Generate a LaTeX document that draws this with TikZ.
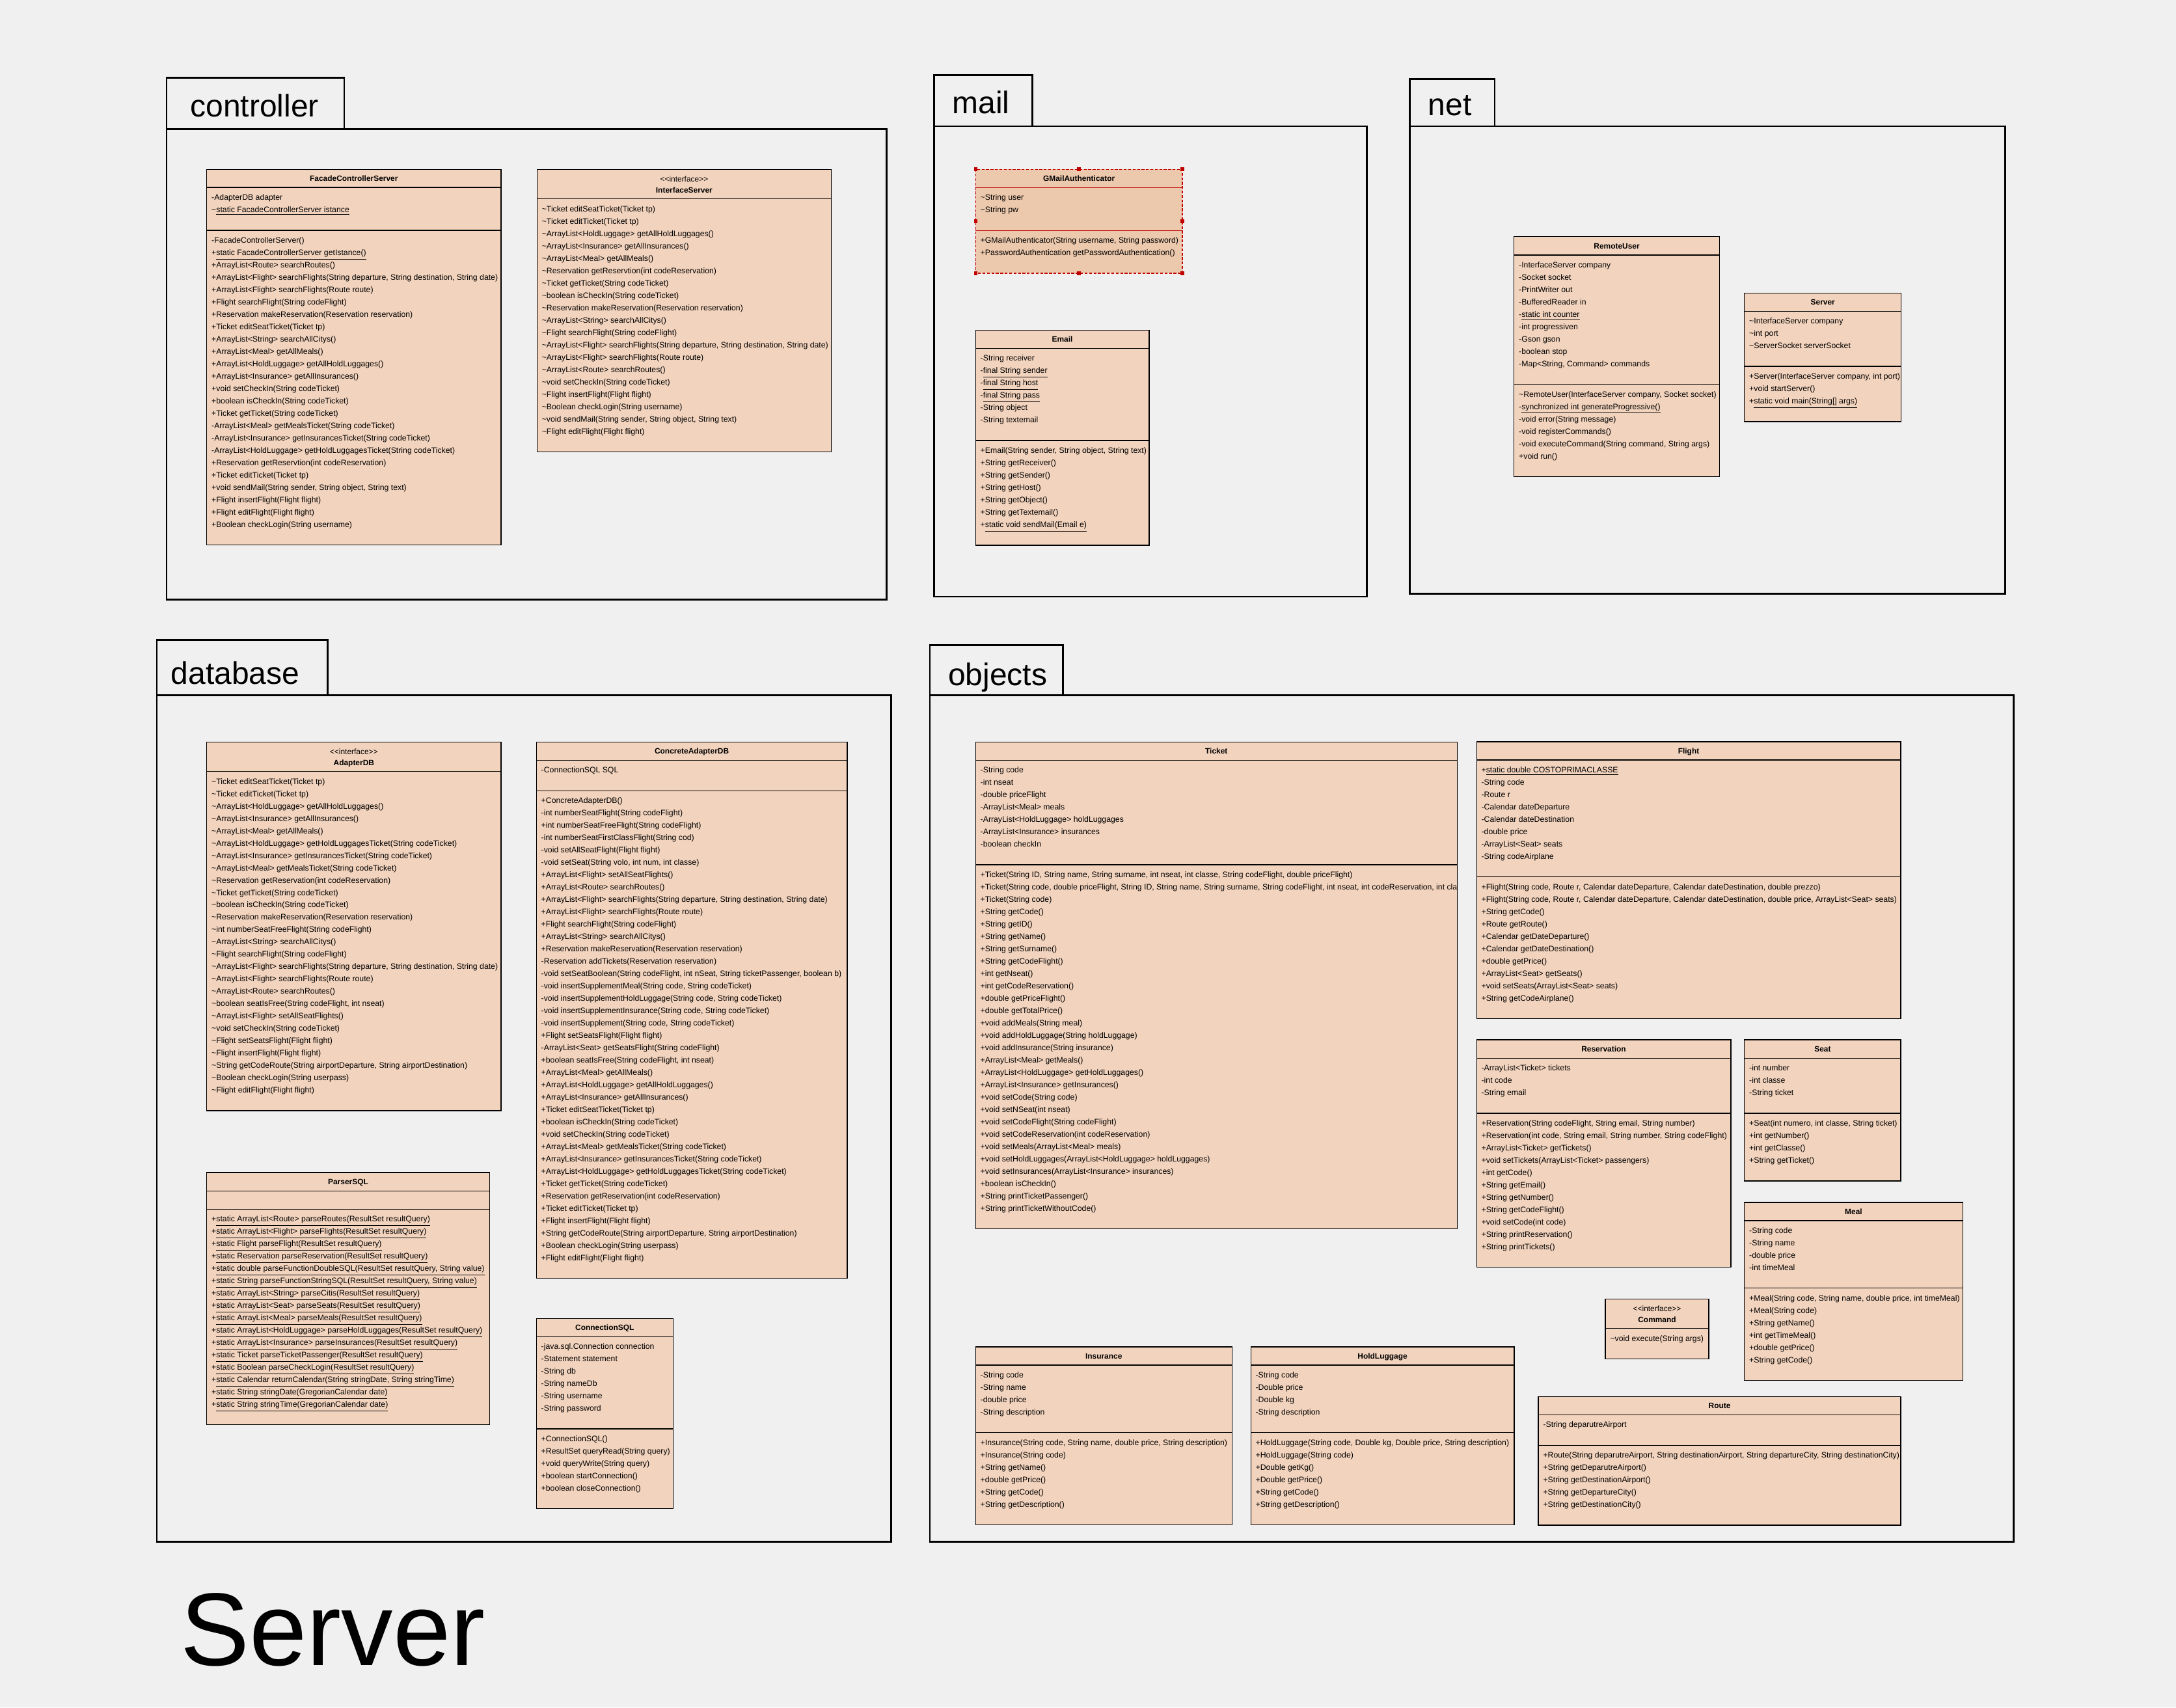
\documentclass[tikz,border=0pt]{standalone}
\usepackage{fontspec}
\setmainfont{Liberation Sans}
\definecolor{bgc}{HTML}{F0F0F0}
\definecolor{cfill}{HTML}{F2D3BD}
\definecolor{gfill}{HTML}{ECC8AC}
\definecolor{selred}{HTML}{C00000}
\newcommand\vtil{\textasciitilde}
\newcommand\stereo{<\kern0pt<interface>\kern0pt>}
\tikzset{
  cbox/.style={draw=black, line width=0.6pt, fill=cfill},
  gbox/.style={draw=selred, line width=0.6pt, fill=gfill, dash pattern=on 2pt off 1.2pt},
  cline/.style={draw=black, line width=0.6pt},
  gline/.style={draw=selred, line width=0.6pt},
  handle/.style={fill=selred, draw=none},
  ctxt/.style={anchor=north west, inner sep=0pt, align=left, font=\fontsize{5.75}{8.9}\selectfont},
  ctitle/.style={anchor=base, inner sep=0pt, font=\bfseries\fontsize{5.6}{7}\selectfont},
  cster/.style={anchor=base, inner sep=0pt, font=\fontsize{5.6}{7}\selectfont},
  pkg/.style={draw=black, line width=1.3pt},
  pkgl/.style={anchor=base west, inner sep=0pt, font=\fontsize{22.5}{27}\selectfont},
}
\begin{document}
\begin{tikzpicture}[x=1pt,y=-1pt]
\useasboundingbox (0,0) rectangle (1568,1230.4);
\fill[bgc] (0,0) rectangle (1568,1230.4);

% ---------------- packages ----------------
\draw[pkg] (120,56) rectangle (248,93);
\draw[pkg] (120,93) rectangle (639,432);
\node[pkgl] (pcontroller) at (137,84) {controller};
\draw[pkg] (673,54) rectangle (744,91);
\draw[pkg] (673,91) rectangle (985,430);
\node[pkgl] (pmail) at (686,82) {mail};
\draw[pkg] (1016,57) rectangle (1077,91);
\draw[pkg] (1016,91) rectangle (1445,428);
\node[pkgl] (pnet) at (1029,83) {net};
\draw[pkg] (113,461) rectangle (236,501);
\draw[pkg] (113,501) rectangle (642,1111);
\node[pkgl] (pdatabase) at (123,493) {database};
\draw[pkg] (670,465) rectangle (766,501);
\draw[pkg] (670,501) rectangle (1451,1111);
\node[pkgl] (pobjects) at (683,494) {objects};
\node[anchor=base west, inner sep=0pt, font=\fontsize{74.5}{80}\selectfont] (title) at (130,1200) {Server};

% ---------------- FacadeControllerServer ----------------
\draw[cbox] (149,122) rectangle (361,392.7);
\draw[cline] (149,135) -- (361,135) (149,166) -- (361,166);
\node[ctitle] (fcsT) at (255,130.6) {FacadeControllerServer};
\node[ctxt] (fcsA) at (152.3,137.77) {\strut-AdapterDB adapter\\\vtil\underline{static FacadeControllerServer istance}};
\node[ctxt] (fcsM) at (152.3,168.77) {\strut-FacadeControllerServer()\\
+\underline{static FacadeControllerServer getIstance()}\\
+ArrayList<Route> searchRoutes()\\
+ArrayList<Flight> searchFlights(String departure, String destination, String date)\\
+ArrayList<Flight> searchFlights(Route route)\\
+Flight searchFlight(String codeFlight)\\
+Reservation makeReservation(Reservation reservation)\\
+Ticket editSeatTicket(Ticket tp)\\
+ArrayList<String> searchAllCitys()\\
+ArrayList<Meal> getAllMeals()\\
+ArrayList<HoldLuggage> getAllHoldLuggages()\\
+ArrayList<Insurance> getAllInsurances()\\
+void setCheckIn(String codeTicket)\\
+boolean isCheckIn(String codeTicket)\\
+Ticket getTicket(String codeTicket)\\
-ArrayList<Meal> getMealsTicket(String codeTicket)\\
-ArrayList<Insurance> getInsurancesTicket(String codeTicket)\\
-ArrayList<HoldLuggage> getHoldLuggagesTicket(String codeTicket)\\
+Reservation getReservtion(int codeReservation)\\
+Ticket editTicket(Ticket tp)\\
+void sendMail(String sender, String object, String text)\\
+Flight insertFlight(Flight flight)\\
+Flight editFlight(Flight flight)\\
+Boolean checkLogin(String username)};

% ---------------- InterfaceServer ----------------
\draw[cbox] (387,122) rectangle (599,325.6);
\draw[cline] (387,143.4) -- (599,143.4);
\node[cster] (isS) at (493,131) {\stereo};
\node[ctitle] (isT) at (493,139) {InterfaceServer};
\node[ctxt] (isM) at (390.3,146.17) {\strut\vtil Ticket editSeatTicket(Ticket tp)\\
\vtil Ticket editTicket(Ticket tp)\\
\vtil ArrayList<HoldLuggage> getAllHoldLuggages()\\
\vtil ArrayList<Insurance> getAllInsurances()\\
\vtil ArrayList<Meal> getAllMeals()\\
\vtil Reservation getReservtion(int codeReservation)\\
\vtil Ticket getTicket(String codeTicket)\\
\vtil boolean isCheckIn(String codeTicket)\\
\vtil Reservation makeReservation(Reservation reservation)\\
\vtil ArrayList<String> searchAllCitys()\\
\vtil Flight searchFlight(String codeFlight)\\
\vtil ArrayList<Flight> searchFlights(String departure, String destination, String date)\\
\vtil ArrayList<Flight> searchFlights(Route route)\\
\vtil ArrayList<Route> searchRoutes()\\
\vtil void setCheckIn(String codeTicket)\\
\vtil Flight insertFlight(Flight flight)\\
\vtil Boolean checkLogin(String username)\\
\vtil void sendMail(String sender, String object, String text)\\
\vtil Flight editFlight(Flight flight)};

% ---------------- GMailAuthenticator ----------------
\draw[gbox] (703,122) rectangle (852,197);
\draw[gline] (703,135.2) -- (852,135.2) (703,166.1) -- (852,166.1);
\foreach \hx/\hy [count=\k] in {703/122,777.5/122,852/122,703/159.5,852/159.5,703/197,777.5/197,852/197}
  \fill[handle] (\hx-1.3,\hy-1.3) rectangle (\hx+1.3,\hy+1.3);
\node[ctitle] (gmaT) at (777.5,130.8) {GMailAuthenticator};
\node[ctxt] (gmaA) at (706.3,137.97) {\strut\vtil String user\\\vtil String pw};
\node[ctxt] (gmaM) at (706.3,168.87) {\strut+GMailAuthenticator(String username, String password)\\
+PasswordAuthentication getPasswordAuthentication()};

% ---------------- Email ----------------
\draw[cbox] (703,238) rectangle (828,392.9);
\draw[cline] (703,251) -- (828,251) (703,317.5) -- (828,317.5);
\node[ctitle] (emT) at (765.5,246.6) {Email};
\node[ctxt] (emA) at (706.3,253.77) {\strut-String receiver\\
-\underline{final String sender}\\
-\underline{final String host}\\
-\underline{final String pass}\\
-String object\\
-String textemail};
\node[ctxt] (emM) at (706.3,320.27) {\strut+Email(String sender, String object, String text)\\
+String getReceiver()\\
+String getSender()\\
+String getHost()\\
+String getObject()\\
+String getTextemail()\\
+\underline{static void sendMail(Email e)}};

% ---------------- RemoteUser ----------------
\draw[cbox] (1091,170.6) rectangle (1239,343.5);
\draw[cline] (1091,183.8) -- (1239,183.8) (1091,277) -- (1239,277);
\node[ctitle] (ruT) at (1165,179.2) {RemoteUser};
\node[ctxt] (ruA) at (1094.3,186.57) {\strut-InterfaceServer company\\
-Socket socket\\
-PrintWriter out\\
-BufferedReader in\\
-\underline{static int counter}\\
-int progressiven\\
-Gson gson\\
-boolean stop\\
-Map<String, Command> commands};
\node[ctxt] (ruM) at (1094.3,279.77) {\strut\vtil RemoteUser(InterfaceServer company, Socket socket)\\
-\underline{synchronized int generateProgressive()}\\
-void error(String message)\\
-void registerCommands()\\
-void executeCommand(String command, String args)\\
+void run()};

% ---------------- Server ----------------
\draw[cbox] (1257,211.2) rectangle (1370,303.8);
\draw[cline] (1257,224.2) -- (1370,224.2) (1257,264) -- (1370,264);
\node[ctitle] (svT) at (1313.5,219.8) {Server};
\node[ctxt] (svA) at (1260.3,226.97) {\strut\vtil InterfaceServer company\\
\vtil int port\\
\vtil ServerSocket serverSocket};
\node[ctxt] (svM) at (1260.3,266.77) {\strut+Server(InterfaceServer company, int port)\\
+void startServer()\\
+\underline{static void main(String[] args)}};

% ---------------- AdapterDB ----------------
\draw[cbox] (149,534.7) rectangle (361,800.4);
\draw[cline] (149,555.9) -- (361,555.9);
\node[cster] (adS) at (255,543.7) {\stereo};
\node[ctitle] (adT) at (255,551.7) {AdapterDB};
\node[ctxt] (adM) at (152.3,558.67) {\strut\vtil Ticket editSeatTicket(Ticket tp)\\
\vtil Ticket editTicket(Ticket tp)\\
\vtil ArrayList<HoldLuggage> getAllHoldLuggages()\\
\vtil ArrayList<Insurance> getAllInsurances()\\
\vtil ArrayList<Meal> getAllMeals()\\
\vtil ArrayList<HoldLuggage> getHoldLuggagesTicket(String codeTicket)\\
\vtil ArrayList<Insurance> getInsurancesTicket(String codeTicket)\\
\vtil ArrayList<Meal> getMealsTicket(String codeTicket)\\
\vtil Reservation getReservation(int codeReservation)\\
\vtil Ticket getTicket(String codeTicket)\\
\vtil boolean isCheckIn(String codeTicket)\\
\vtil Reservation makeReservation(Reservation reservation)\\
\vtil int numberSeatFreeFlight(String codeFlight)\\
\vtil ArrayList<String> searchAllCitys()\\
\vtil Flight searchFlight(String codeFlight)\\
\vtil ArrayList<Flight> searchFlights(String departure, String destination, String date)\\
\vtil ArrayList<Flight> searchFlights(Route route)\\
\vtil ArrayList<Route> searchRoutes()\\
\vtil boolean seatIsFree(String codeFlight, int nseat)\\
\vtil ArrayList<Flight> setAllSeatFlights()\\
\vtil void setCheckIn(String codeTicket)\\
\vtil Flight setSeatsFlight(Flight flight)\\
\vtil Flight insertFlight(Flight flight)\\
\vtil String getCodeRoute(String airportDeparture, String airportDestination)\\
\vtil Boolean checkLogin(String userpass)\\
\vtil Flight editFlight(Flight flight)};

% ---------------- ConcreteAdapterDB ----------------
\draw[cbox] (386.5,534.7) rectangle (610.5,921.1);
\draw[cline] (386.5,547.8) -- (610.5,547.8) (386.5,569.8) -- (610.5,569.8);
\node[ctitle] (caT) at (498.5,543.3) {ConcreteAdapterDB};
\node[ctxt] (caA) at (389.8,550.57) {\strut-ConnectionSQL SQL};
\node[ctxt] (caM) at (389.8,572.57) {\strut+ConcreteAdapterDB()\\
-int numberSeatFlight(String codeFlight)\\
+int numberSeatFreeFlight(String codeFlight)\\
-int numberSeatFirstClassFlight(String cod)\\
-void setAllSeatFlight(Flight flight)\\
-void setSeat(String volo, int num, int classe)\\
+ArrayList<Flight> setAllSeatFlights()\\
+ArrayList<Route> searchRoutes()\\
+ArrayList<Flight> searchFlights(String departure, String destination, String date)\\
+ArrayList<Flight> searchFlights(Route route)\\
+Flight searchFlight(String codeFlight)\\
+ArrayList<String> searchAllCitys()\\
+Reservation makeReservation(Reservation reservation)\\
-Reservation addTickets(Reservation reservation)\\
-void setSeatBoolean(String codeFlight, int nSeat, String ticketPassenger, boolean b)\\
-void insertSupplementMeal(String code, String codeTicket)\\
-void insertSupplementHoldLuggage(String code, String codeTicket)\\
-void insertSupplementInsurance(String code, String codeTicket)\\
-void insertSupplement(String code, String codeTicket)\\
+Flight setSeatsFlight(Flight flight)\\
-ArrayList<Seat> getSeatsFlight(String codeFlight)\\
+boolean seatIsFree(String codeFlight, int nseat)\\
+ArrayList<Meal> getAllMeals()\\
+ArrayList<HoldLuggage> getAllHoldLuggages()\\
+ArrayList<Insurance> getAllInsurances()\\
+Ticket editSeatTicket(Ticket tp)\\
+boolean isCheckIn(String codeTicket)\\
+void setCheckIn(String codeTicket)\\
+ArrayList<Meal> getMealsTicket(String codeTicket)\\
+ArrayList<Insurance> getInsurancesTicket(String codeTicket)\\
+ArrayList<HoldLuggage> getHoldLuggagesTicket(String codeTicket)\\
+Ticket getTicket(String codeTicket)\\
+Reservation getReservation(int codeReservation)\\
+Ticket editTicket(Ticket tp)\\
+Flight insertFlight(Flight flight)\\
+String getCodeRoute(String airportDeparture, String airportDestination)\\
+Boolean checkLogin(String userpass)\\
+Flight editFlight(Flight flight)};

% ---------------- ParserSQL ----------------
\draw[cbox] (149,845) rectangle (352.7,1026.8);
\draw[cline] (149,858.2) -- (352.7,858.2) (149,871.3) -- (352.7,871.3);
\node[ctitle] (psT) at (250.85,853.6) {ParserSQL};
\node[ctxt] (psM) at (152.3,874.07) {\strut+\underline{static ArrayList<Route> parseRoutes(ResultSet resultQuery)}\\
+\underline{static ArrayList<Flight> parseFlights(ResultSet resultQuery)}\\
+\underline{static Flight parseFlight(ResultSet resultQuery)}\\
+\underline{static Reservation parseReservation(ResultSet resultQuery)}\\
+\underline{static double parseFunctionDoubleSQL(ResultSet resultQuery, String value)}\\
+\underline{static String parseFunctionStringSQL(ResultSet resultQuery, String value)}\\
+\underline{static ArrayList<String> parseCitis(ResultSet resultQuery)}\\
+\underline{static ArrayList<Seat> parseSeats(ResultSet resultQuery)}\\
+\underline{static ArrayList<Meal> parseMeals(ResultSet resultQuery)}\\
+\underline{static ArrayList<HoldLuggage> parseHoldLuggages(ResultSet resultQuery)}\\
+\underline{static ArrayList<Insurance> parseInsurances(ResultSet resultQuery)}\\
+\underline{static Ticket parseTicketPassenger(ResultSet resultQuery)}\\
+\underline{static Boolean parseCheckLogin(ResultSet resultQuery)}\\
+\underline{static Calendar returnCalendar(String stringDate, String stringTime)}\\
+\underline{static String stringDate(GregorianCalendar date)}\\
+\underline{static String stringTime(GregorianCalendar date)}};

% ---------------- ConnectionSQL ----------------
\draw[cbox] (386.5,950.1) rectangle (485,1087.3);
\draw[cline] (386.5,963.2) -- (485,963.2) (386.5,1029.7) -- (485,1029.7);
\node[ctitle] (csT) at (435.75,958.7) {ConnectionSQL};
\node[ctxt] (csA) at (389.8,965.97) {\strut-java.sql.Connection connection\\
-Statement statement\\
-String db\\
-String nameDb\\
-String username\\
-String password};
\node[ctxt] (csM) at (389.8,1032.47) {\strut+ConnectionSQL()\\
+ResultSet queryRead(String query)\\
+void queryWrite(String query)\\
+boolean startConnection()\\
+boolean closeConnection()};

% ---------------- Ticket ----------------
\draw[cbox] (703,534.8) rectangle (1050,885.5);
\draw[cline] (703,547.8) -- (1050,547.8) (703,623.2) -- (1050,623.2);
\node[ctitle] (tkT) at (876.5,543.4) {Ticket};
\node[ctxt] (tkA) at (706.3,550.57) {\strut-String code\\
-int nseat\\
-double priceFlight\\
-ArrayList<Meal> meals\\
-ArrayList<HoldLuggage> holdLuggages\\
-ArrayList<Insurance> insurances\\
-boolean checkIn};
\begin{scope}
\clip (703,534.8) rectangle (1049.7,885.5);
\node[ctxt] (tkM) at (706.3,625.97) {\strut+Ticket(String ID, String name, String surname, int nseat, int classe, String codeFlight, double priceFlight)\\
+Ticket(String code, double priceFlight, String ID, String name, String surname, String codeFlight, int nseat, int codeReservation, int classe)\\
+Ticket(String code)\\
+String getCode()\\
+String getID()\\
+String getName()\\
+String getSurname()\\
+String getCodeFlight()\\
+int getNseat()\\
+int getCodeReservation()\\
+double getPriceFlight()\\
+double getTotalPrice()\\
+void addMeals(String meal)\\
+void addHoldLuggage(String holdLuggage)\\
+void addInsurance(String insurance)\\
+ArrayList<Meal> getMeals()\\
+ArrayList<HoldLuggage> getHoldLuggages()\\
+ArrayList<Insurance> getInsurances()\\
+void setCode(String code)\\
+void setNSeat(int nseat)\\
+void setCodeFlight(String codeFlight)\\
+void setCodeReservation(int codeReservation)\\
+void setMeals(ArrayList<Meal> meals)\\
+void setHoldLuggages(ArrayList<HoldLuggage> holdLuggages)\\
+void setInsurances(ArrayList<Insurance> insurances)\\
+boolean isCheckIn()\\
+String printTicketPassenger()\\
+String printTicketWithoutCode()};
\end{scope}
\draw[cline] (1050,534.8) -- (1050,885.5);

% ---------------- Flight ----------------
\draw[cbox] (1064,534.6) rectangle (1369.6,734.1);
\draw[cline] (1064,547.7) -- (1369.6,547.7) (1064,632) -- (1369.6,632);
\node[ctitle] (flT) at (1216.8,543.2) {Flight};
\node[ctxt] (flA) at (1067.3,550.47) {\strut+\underline{static double COSTOPRIMACLASSE}\\
-String code\\
-Route r\\
-Calendar dateDeparture\\
-Calendar dateDestination\\
-double price\\
-ArrayList<Seat> seats\\
-String codeAirplane};
\node[ctxt] (flM) at (1067.3,634.77) {\strut+Flight(String code, Route r, Calendar dateDeparture, Calendar dateDestination, double prezzo)\\
+Flight(String code, Route r, Calendar dateDeparture, Calendar dateDestination, double price, ArrayList<Seat> seats)\\
+String getCode()\\
+Route getRoute()\\
+Calendar getDateDeparture()\\
+Calendar getDateDestination()\\
+double getPrice()\\
+ArrayList<Seat> getSeats()\\
+void setSeats(ArrayList<Seat> seats)\\
+String getCodeAirplane()};

% ---------------- Reservation ----------------
\draw[cbox] (1064,749.3) rectangle (1247.2,913.3);
\draw[cline] (1064,762.5) -- (1247.2,762.5) (1064,802.3) -- (1247.2,802.3);
\node[ctitle] (rsT) at (1155.6,757.9) {Reservation};
\node[ctxt] (rsA) at (1067.3,765.27) {\strut-ArrayList<Ticket> tickets\\
-int code\\
-String email};
\node[ctxt] (rsM) at (1067.3,805.07) {\strut+Reservation(String codeFlight, String email, String number)\\
+Reservation(int code, String email, String number, String codeFlight)\\
+ArrayList<Ticket> getTickets()\\
+void setTickets(ArrayList<Ticket> passengers)\\
+int getCode()\\
+String getEmail()\\
+String getNumber()\\
+String getCodeFlight()\\
+void setCode(int code)\\
+String printReservation()\\
+String printTickets()};

% ---------------- Seat ----------------
\draw[cbox] (1257,749.3) rectangle (1369.7,851);
\draw[cline] (1257,762.5) -- (1369.7,762.5) (1257,802.3) -- (1369.7,802.3);
\node[ctitle] (stT) at (1313.35,757.9) {Seat};
\node[ctxt] (stA) at (1260.3,765.27) {\strut-int number\\
-int classe\\
-String ticket};
\node[ctxt] (stM) at (1260.3,805.07) {\strut+Seat(int numero, int classe, String ticket)\\
+int getNumber()\\
+int getClasse()\\
+String getTicket()};

% ---------------- Meal ----------------
\draw[cbox] (1257,866.5) rectangle (1414.3,994.8);
\draw[cline] (1257,879.6) -- (1414.3,879.6) (1257,928.3) -- (1414.3,928.3);
\node[ctitle] (mlT) at (1335.65,875.1) {Meal};
\node[ctxt] (mlA) at (1260.3,882.37) {\strut-String code\\
-String name\\
-double price\\
-int timeMeal};
\node[ctxt] (mlM) at (1260.3,931.07) {\strut+Meal(String code, String name, double price, int timeMeal)\\
+Meal(String code)\\
+String getName()\\
+int getTimeMeal()\\
+double getPrice()\\
+String getCode()};

% ---------------- Command ----------------
\draw[cbox] (1156.8,936) rectangle (1231.3,979.2);
\draw[cline] (1156.8,957.2) -- (1231.3,957.2);
\node[cster] (cmS) at (1194.05,945) {\stereo};
\node[ctitle] (cmT) at (1194.05,953) {Command};
\node[ctxt] (cmM) at (1160.1,959.97) {\strut\vtil void execute(String args)};

% ---------------- Insurance ----------------
\draw[cbox] (703,970.6) rectangle (887.7,1098.9);
\draw[cline] (703,983.7) -- (887.7,983.7) (703,1032.4) -- (887.7,1032.4);
\node[ctitle] (inT) at (795.35,979.2) {Insurance};
\node[ctxt] (inA) at (706.3,986.47) {\strut-String code\\
-String name\\
-double price\\
-String description};
\node[ctxt] (inM) at (706.3,1035.17) {\strut+Insurance(String code, String name, double price, String description)\\
+Insurance(String code)\\
+String getName()\\
+double getPrice()\\
+String getCode()\\
+String getDescription()};

% ---------------- HoldLuggage ----------------
\draw[cbox] (901.3,970.6) rectangle (1091.1,1098.9);
\draw[cline] (901.3,983.7) -- (1091.1,983.7) (901.3,1032.4) -- (1091.1,1032.4);
\node[ctitle] (hlT) at (996.2,979.2) {HoldLuggage};
\node[ctxt] (hlA) at (904.6,986.47) {\strut-String code\\
-Double price\\
-Double kg\\
-String description};
\node[ctxt] (hlM) at (904.6,1035.17) {\strut+HoldLuggage(String code, Double kg, Double price, String description)\\
+HoldLuggage(String code)\\
+Double getKg()\\
+Double getPrice()\\
+String getCode()\\
+String getDescription()};

% ---------------- Route ----------------
\draw[cbox] (1108.5,1006.4) rectangle (1369.7,1099.1);
\draw[cline] (1108.5,1019.5) -- (1369.7,1019.5) (1108.5,1041.5) -- (1369.7,1041.5);
\node[ctitle] (rtT) at (1239.1,1015) {Route};
\node[ctxt] (rtA) at (1111.8,1022.27) {\strut-String deparutreAirport};
\node[ctxt] (rtM) at (1111.8,1044.27) {\strut+Route(String deparutreAirport, String destinationAirport, String departureCity, String destinationCity)\\
+String getDeparutreAirport()\\
+String getDestinationAirport()\\
+String getDepartureCity()\\
+String getDestinationCity()};
\end{tikzpicture}
\end{document}
